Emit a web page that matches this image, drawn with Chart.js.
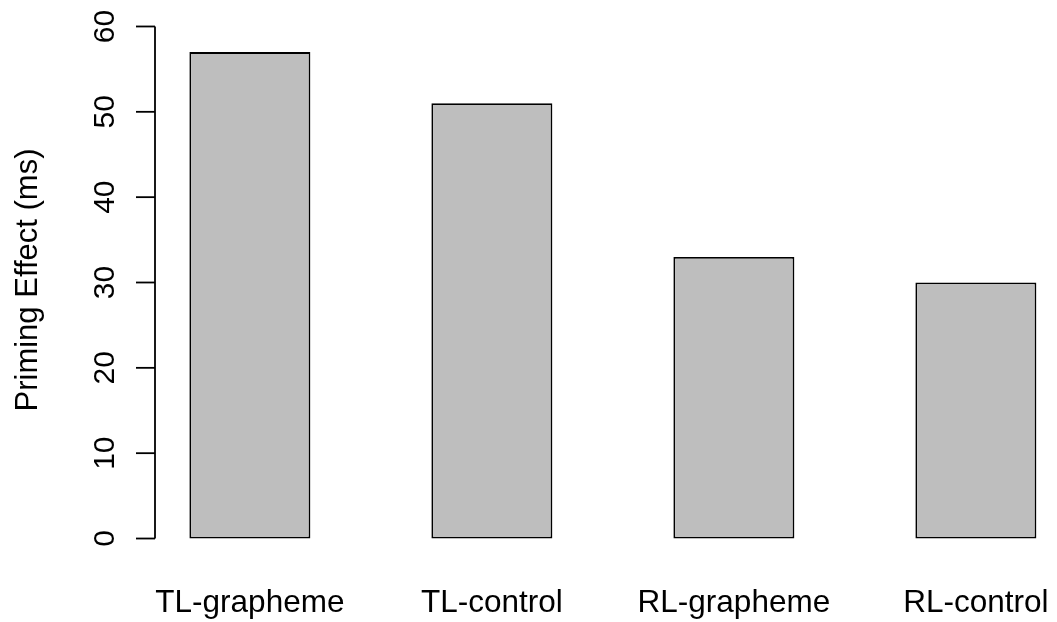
<!DOCTYPE html>
<html>
<head>
<meta charset="utf-8">
<script src="https://cdn.jsdelivr.net/npm/chart.js@4/dist/chart.umd.min.js"></script>
<style>
  html, body { margin: 0; padding: 0; background: #fff; overflow: hidden; }
  #wrap { position: relative; width: 1057px; height: 622px; }
</style>
</head>
<body>
<div id="wrap"><canvas id="c" width="1057" height="622"></canvas></div>
<script>
// ---- data ----
const categories = ["TL-grapheme", "TL-control", "RL-grapheme", "RL-control"];
const primingEffect = [57, 51, 33, 30];
const barCenters = [1.5, 3.5, 5.5, 7.5];
const yTicks = [0, 10, 20, 30, 40, 50, 60];
const yTitle = "Priming Effect (ms)";

const FONT = "'Liberation Sans', Arial, Helvetica, sans-serif";

const rAxes = {
  id: 'rAxes',
  afterDraw(chart) {
    const ctx = chart.ctx;
    const ys = chart.scales.y, xs = chart.scales.x;
    const axX = chart.chartArea.left - 0.5;
    ctx.save();
    ctx.strokeStyle = '#000';
    ctx.lineWidth = 1.8;
    // y axis line
    const yTop = ys.getPixelForValue(yTicks[yTicks.length - 1]);
    const yBot = ys.getPixelForValue(yTicks[0]);
    ctx.beginPath();
    ctx.moveTo(axX, yTop);
    ctx.lineTo(axX, yBot);
    ctx.stroke();
    // ticks + labels
    ctx.fillStyle = '#000';
    ctx.font = '30px ' + FONT;
    ctx.textAlign = 'center';
    ctx.textBaseline = 'alphabetic';
    ys.ticks.forEach(t => {
      const py = ys.getPixelForValue(t.value);
      ctx.beginPath();
      ctx.moveTo(axX - 19, py);
      ctx.lineTo(axX, py);
      ctx.stroke();
      ctx.save();
      ctx.translate(114, py);
      ctx.rotate(-Math.PI / 2);
      ctx.fillText(String(t.value), 0, 0);
      ctx.restore();
    });
    // x category labels
    ctx.font = '31.5px ' + FONT;
    xs.ticks.forEach((t, i) => {
      const px = xs.getPixelForValue(t.value);
      ctx.fillText(categories[i], px, 611.5);
    });
    // y title
    ctx.font = '31px ' + FONT;
    ctx.save();
    ctx.translate(36.5, 280);
    ctx.rotate(-Math.PI / 2);
    ctx.fillText(yTitle, 0, 0);
    ctx.restore();
    ctx.restore();
  }
};

new Chart(document.getElementById('c'), {
  type: 'bar',
  data: {
    datasets: [{
      data: barCenters.map((x, i) => ({ x: x, y: primingEffect[i] })),
      backgroundColor: '#bebebe',
      borderColor: '#000',
      borderWidth: 1.8,
      borderSkipped: false,
      categoryPercentage: 1,
      barPercentage: 0.5
    }]
  },
  options: {
    responsive: false,
    animation: false,
    events: [],
    layout: { padding: { left: 155.5, top: 6, right: 0, bottom: 63 } },
    plugins: { legend: { display: false }, tooltip: { enabled: false } },
    scales: {
      x: {
        type: 'linear',
        display: false,
        offset: false,
        min: 0.72,
        max: 0.72 + 901.5 / 121,
        afterBuildTicks: (s) => { s.ticks = barCenters.map(v => ({ value: v })); }
      },
      y: {
        type: 'linear',
        display: false,
        min: -2.4,
        max: 62.4,
        afterBuildTicks: (s) => { s.ticks = yTicks.map(v => ({ value: v })); }
      }
    }
  },
  plugins: [rAxes]
});
</script>
</body>
</html>
